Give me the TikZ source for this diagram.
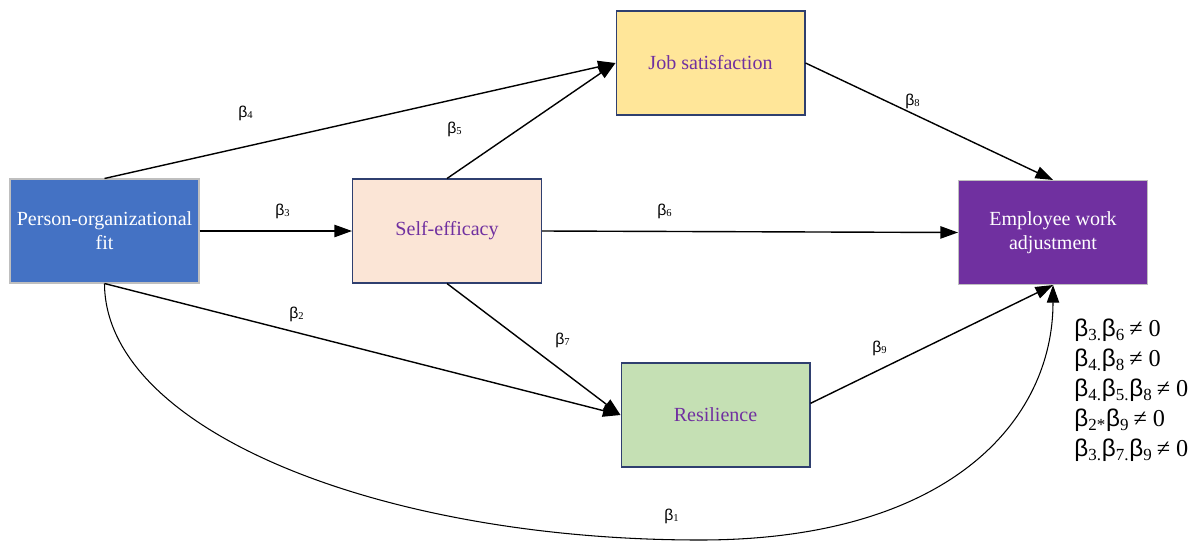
\documentclass[tikz,border=0pt]{standalone}
\usepackage{fontspec}
\setmainfont{Liberation Serif}
\newfontfamily\betafont{Liberation Sans}
\usetikzlibrary{arrows.meta,positioning}

\definecolor{pofblue}{HTML}{4472C4}
\definecolor{selfpeach}{HTML}{FBE5D6}
\definecolor{jobyellow}{HTML}{FFE699}
\definecolor{ewapurple}{HTML}{7030A0}
\definecolor{resgreen}{HTML}{C5E0B4}
\definecolor{navyline}{HTML}{2F3F6F}
\definecolor{greyline}{HTML}{BFBFBF}

\newcommand{\bt}[1]{{\betafont β}\textsubscript{#1}}

\begin{document}
\begin{tikzpicture}[x=0.02cm,y=-0.02cm,
  box/.style={rectangle,draw,line width=0.6pt,minimum width=3.78cm,
    minimum height=2.08cm,align=center,
    font=\fontsize{11.4}{13.8}\selectfont},
  arr/.style={-{Triangle[length=10pt,width=7pt]},line width=0.8pt},
  lbl/.style={font=\fontsize{9}{11}\selectfont}]

\useasboundingbox (0,0) rectangle (1195,541);

% variables
\node[box,fill=pofblue,draw=greyline,text=white] (pof) at (104.5,231)
  {Person-organizational\\fit};
\node[box,fill=selfpeach,draw=navyline,text=ewapurple] (self) at (447,231)
  {Self-efficacy};
\node[box,fill=jobyellow,draw=navyline,text=ewapurple] (job) at (710.5,63)
  {Job satisfaction};
\node[box,fill=ewapurple,draw=greyline,text=white] (ewa) at (1053,232.5)
  {Employee work\\adjustment};
\node[box,fill=resgreen,draw=navyline,text=ewapurple] (res) at (715.5,415)
  {Resilience};

% paths
\draw[arr] (pof.north) -- (job.west);
\draw[arr] (self.north) -- (job.west);
\draw[arr] (pof.east) -- (self.west);
\draw[arr] (self.east) -- (ewa.west);
\draw[arr] (pof.south) -- (res.west);
\draw[arr] (self.south) -- (res.west);
\draw[arr] (job.east) -- (ewa.north);
\draw[arr] (res.7) -- (ewa.south);

% direct effect
\coordinate (low) at (700,540);
\draw[arr,line width=0.6pt] (pof.south) .. controls (105,430) and (380,540) .. (low)
  .. controls (950,540) and (1053,420) .. (ewa.south);

% coefficients
\node[lbl] (b4) at (246,113) {\bt{4}};
\node[lbl] (b5) at (455,129) {\bt{5}};
\node[lbl] (b3) at (283,211) {\bt{3}};
\node[lbl] (b6) at (665,211) {\bt{6}};
\node[lbl] (b8) at (913,101) {\bt{8}};
\node[lbl] (b2) at (297,314) {\bt{2}};
\node[lbl] (b7) at (563,340) {\bt{7}};
\node[lbl] (b9) at (880,348) {\bt{9}};
\node[lbl] (b1) at (672,516) {\bt{1}};

% indirect effects
\node[anchor=north west,align=left,inner sep=0pt,
  font=\fontsize{13.8}{17}\selectfont] (cond) at (1074,319)
  {\bt{3.}\bt{6}\,≠ 0\\
   \bt{4.}\bt{8}\,≠ 0\\
   \bt{4.}\bt{5.}\bt{8}\,≠ 0\\
   \bt{2*}\bt{9}\,≠ 0\\
   \bt{3.}\bt{7.}\bt{9}\,≠ 0};
\end{tikzpicture}
\end{document}
